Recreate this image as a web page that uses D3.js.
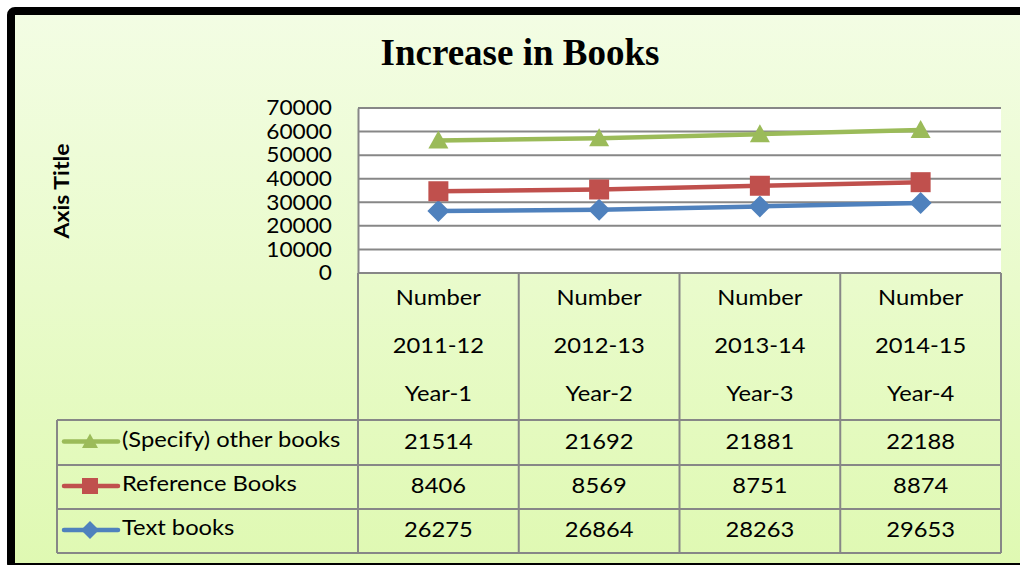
<!DOCTYPE html>
<html>
<head>
<meta charset="utf-8">
<script src="https://cdn.jsdelivr.net/npm/d3@7"></script>
<style>
  body { margin: 0; background: #fff; }
  svg { display: block; }
</style>
</head>
<body>
<div id="chart"></div>
<script>
var categories = ['Number 2011-12 Year-1', 'Number 2012-13 Year-2', 'Number 2013-14 Year-3', 'Number 2014-15 Year-4'];
var headerLines = [['Number', '2011-12', 'Year-1'], ['Number', '2012-13', 'Year-2'], ['Number', '2013-14', 'Year-3'], ['Number', '2014-15', 'Year-4']];
var textBooks = [26275, 26864, 28263, 29653];
var referenceBooks = [8406, 8569, 8751, 8874];
var otherBooks = [21514, 21692, 21881, 22188];
var yTicks = [0, 10000, 20000, 30000, 40000, 50000, 60000, 70000];

// series in stacking order (bottom first)
var series = [
  {name: 'Text books', values: textBooks, color: '#4f81bd', marker: 'diamond'},
  {name: 'Reference Books', values: referenceBooks, color: '#c0504d', marker: 'square'},
  {name: '(Specify) other books', values: otherBooks, color: '#9bbb59', marker: 'triangle'}
];

var w = 1020, h = 565;
var font = 'Lato, "Open Sans", sans-serif';
var fs = 21, sx = 1.13;  // Calibri-ish look: Lato stretched a bit

var svg = d3.select('#chart').append('svg')
    .attr('width', w)
    .attr('height', h);

var defs = svg.append('defs');
var grad = defs.append('linearGradient')
    .attr('id', 'bg')
    .attr('x1', 0).attr('y1', 0).attr('x2', 0).attr('y2', 1);
grad.append('stop').attr('offset', '0%').attr('stop-color', '#f3fde4');
grad.append('stop').attr('offset', '100%').attr('stop-color', '#dff9b2');

// chart area with thick black border (cut off at right)
svg.append('rect')
    .attr('x', 11).attr('y', 11)
    .attr('width', 1030).attr('height', 556)
    .attr('rx', 4)
    .attr('fill', 'url(#bg)')
    .attr('stroke', '#000')
    .attr('stroke-width', 8);

svg.append('text')
    .attr('x', 520)
    .attr('y', 65)
    .attr('text-anchor', 'middle')
    .attr('font-family', '"Liberation Serif", "Times New Roman", serif')
    .attr('font-weight', 'bold')
    .attr('font-size', '37px')
    .attr('fill', '#000')
    .text('Increase in Books');

function label(g, x, y, txt, anchor) {
  return g.append('text')
    .attr('transform', 'translate(' + x + ',' + y + ') scale(' + sx + ',1)')
    .attr('dy', '0.35em')
    .attr('text-anchor', anchor || 'middle')
    .attr('font-family', font)
    .attr('font-size', fs + 'px')
    .attr('fill', '#000')
    .text(txt);
}

var plot = {left: 358, right: 1001, top: 108, bottom: 273};

var x = d3.scaleBand()
    .domain(categories)
    .range([plot.left, plot.right]);

var y = d3.scaleLinear()
    .domain([0, 70000])
    .range([plot.bottom, plot.top]);

// stacked values
var stack = d3.stack()
    .keys(d3.range(series.length))
    .value(function(d, k) { return series[k].values[d]; });
var stacked = stack(d3.range(categories.length));

svg.append('rect')
    .attr('x', plot.left).attr('y', plot.top)
    .attr('width', plot.right - plot.left)
    .attr('height', plot.bottom - plot.top)
    .attr('fill', '#fff');

svg.selectAll('.grid')
    .data(yTicks)
    .enter()
    .append('line')
    .attr('class', 'grid')
    .attr('x1', plot.left)
    .attr('x2', plot.right)
    .attr('y1', function(d) { return y(d); })
    .attr('y2', function(d) { return y(d); })
    .attr('stroke', '#878787')
    .attr('stroke-width', 2);

var yAxis = svg.append('g')
    .attr('transform', 'translate(' + plot.left + ',0)')
    .call(d3.axisLeft(y).tickValues(yTicks).tickSize(0).tickPadding(26).tickFormat(d3.format('d')));
yAxis.select('.domain')
    .attr('stroke', '#878787')
    .attr('stroke-width', 2);
yAxis.selectAll('text')
    .attr('x', -26 / 1.08)
    .attr('transform', 'scale(1.08,1)')
    .attr('font-family', font)
    .attr('font-size', fs + 'px')
    .attr('fill', '#000');

svg.append('text')
    .attr('transform', 'translate(69,191) rotate(-90) scale(1.15,1)')
    .attr('text-anchor', 'middle')
    .attr('font-family', font)
    .attr('font-weight', 'bold')
    .attr('font-size', '20px')
    .attr('fill', '#000')
    .text('Axis Title');

// markers
function drawMarker(g, type, cx, cy, color, s) {
  if (type === 'diamond') {
    g.append('path')
      .attr('d', 'M' + cx + ',' + (cy - s) + 'L' + (cx + s) + ',' + cy + 'L' + cx + ',' + (cy + s) + 'L' + (cx - s) + ',' + cy + 'Z')
      .attr('fill', color);
  } else if (type === 'square') {
    g.append('rect')
      .attr('x', cx - s).attr('y', cy - s)
      .attr('width', 2 * s).attr('height', 2 * s)
      .attr('fill', color);
  } else {
    g.append('path')
      .attr('d', 'M' + cx + ',' + (cy - s) + 'L' + (cx + s) + ',' + (cy + s * 0.8) + 'L' + (cx - s) + ',' + (cy + s * 0.8) + 'Z')
      .attr('fill', color);
  }
}

var line = d3.line()
    .x(function(d, i) { return x(categories[i]) + x.bandwidth() / 2; })
    .y(function(d) { return y(d[1]); });

stacked.forEach(function(layer, k) {
  var s = series[k];
  svg.append('path')
    .datum(layer)
    .attr('d', line)
    .attr('fill', 'none')
    .attr('stroke', s.color)
    .attr('stroke-width', 4.5);
  var g = svg.append('g');
  layer.forEach(function(d, i) {
    var cx = x(categories[i]) + x.bandwidth() / 2;
    drawMarker(g, s.marker, cx, y(d[1]), s.color, s.marker === 'diamond' ? 11 : 10);
  });
});

// data table
var tableLine = '#878787';
var headerBottom = 420;
var rowH = [420, 465, 509, 553];
var legendLeft = 57;
var tableRows = [series[2], series[1], series[0]];

var t = svg.append('g');

// column separators
t.selectAll('.vline')
    .data(d3.range(categories.length + 1))
    .enter()
    .append('line')
    .attr('x1', function(i) { return i < categories.length ? x(categories[i]) : plot.right; })
    .attr('x2', function(i) { return i < categories.length ? x(categories[i]) : plot.right; })
    .attr('y1', plot.bottom)
    .attr('y2', rowH[3])
    .attr('stroke', tableLine)
    .attr('stroke-width', 2);

t.append('line')
    .attr('x1', legendLeft).attr('x2', legendLeft)
    .attr('y1', headerBottom).attr('y2', rowH[3])
    .attr('stroke', tableLine).attr('stroke-width', 2);

t.selectAll('.hline')
    .data(rowH)
    .enter()
    .append('line')
    .attr('x1', legendLeft)
    .attr('x2', plot.right)
    .attr('y1', function(d) { return d; })
    .attr('y2', function(d) { return d; })
    .attr('stroke', tableLine)
    .attr('stroke-width', 2);

t.append('line')
    .attr('x1', plot.left).attr('x2', plot.right)
    .attr('y1', plot.bottom).attr('y2', plot.bottom)
    .attr('stroke', tableLine).attr('stroke-width', 2);

// header text
categories.forEach(function(c, i) {
  headerLines[i].forEach(function(txt, j) {
    label(t, x(c) + x.bandwidth() / 2, 298 + j * 48, txt);
  });
});

// rows
tableRows.forEach(function(s, r) {
  var cy = (rowH[r] + rowH[r + 1]) / 2;
  t.append('line')
    .attr('x1', 64).attr('x2', 118)
    .attr('y1', cy - 1).attr('y2', cy - 1)
    .attr('stroke', s.color)
    .attr('stroke-width', 4.5)
    .attr('stroke-linecap', 'round');
  drawMarker(t, s.marker, 90, cy - 1, s.color, s.marker === 'diamond' ? 9 : 8);
  label(t, 122, cy - 3, s.name, 'start');
  s.values.forEach(function(v, i) {
    label(t, x(categories[i]) + x.bandwidth() / 2, cy - 1, v);
  });
});
</script>
</body>
</html>
